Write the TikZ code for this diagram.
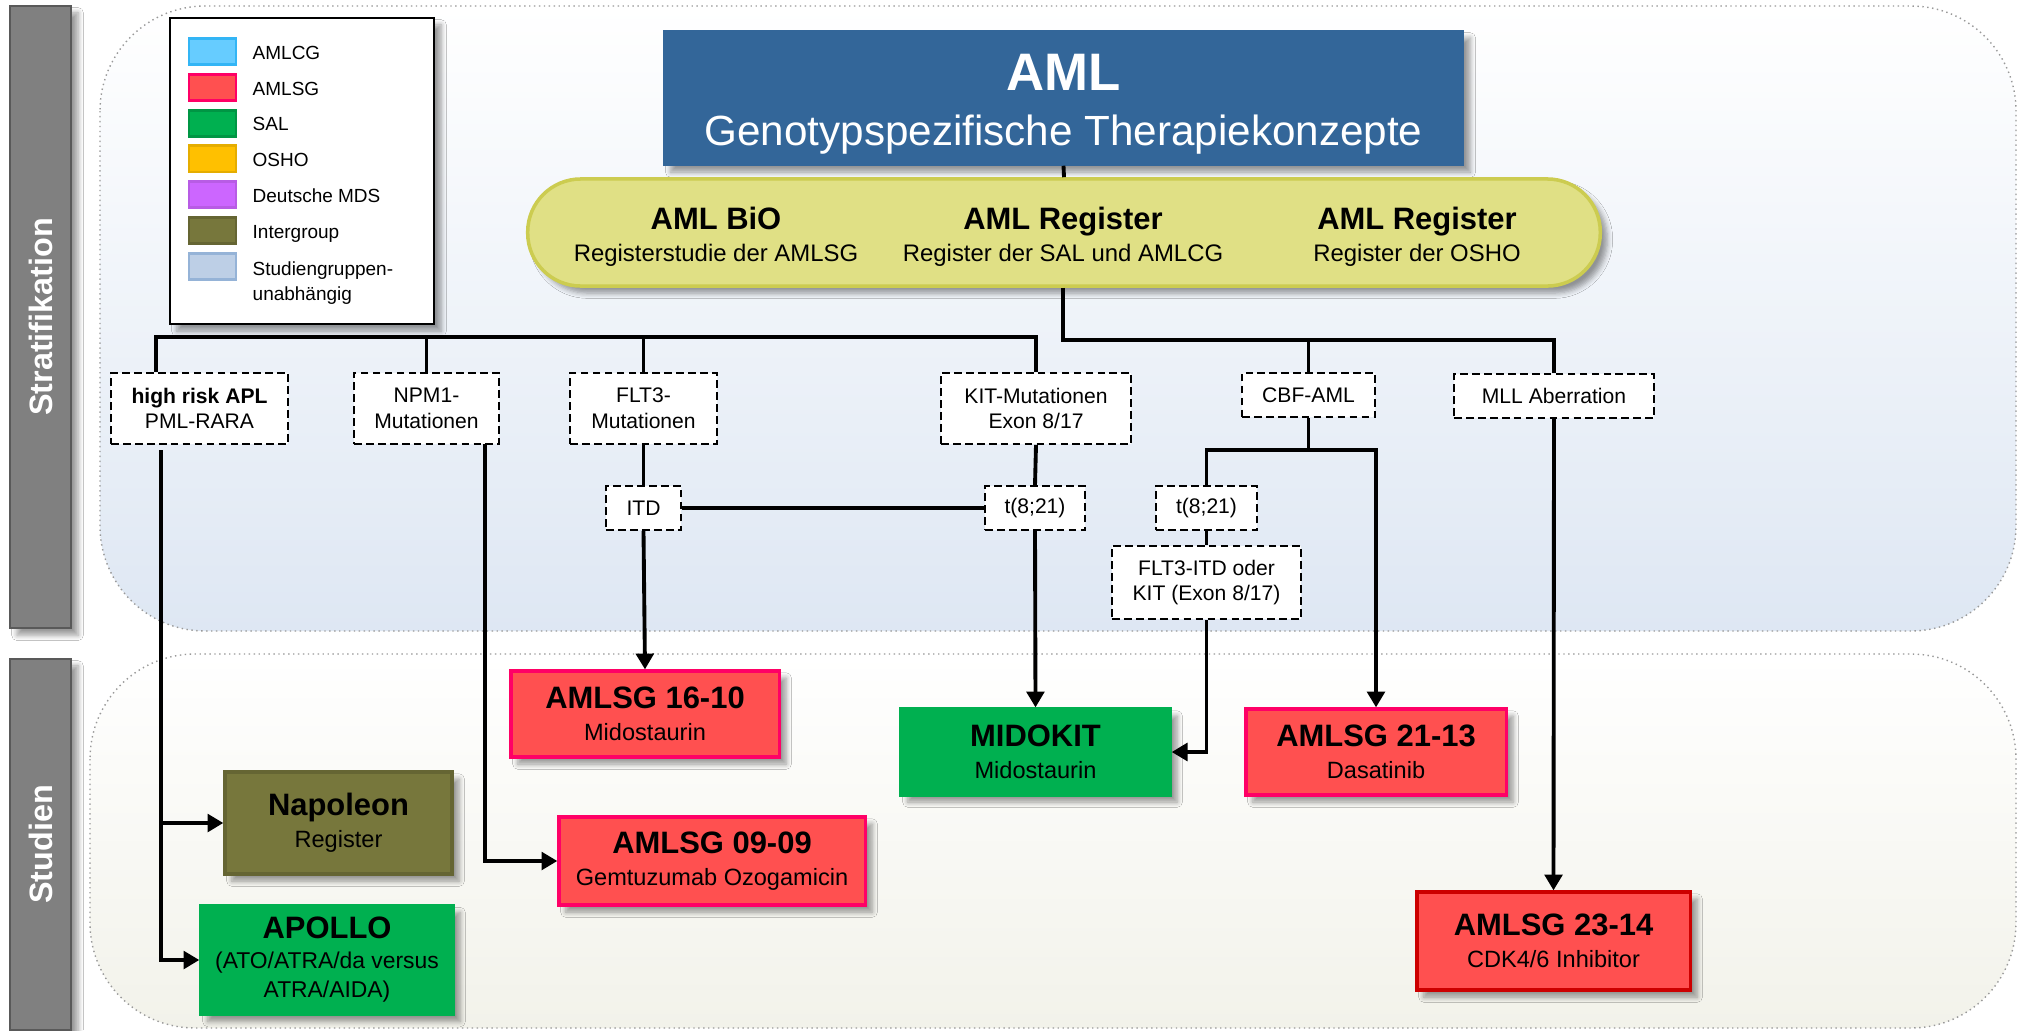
\documentclass[tikz,border=0pt]{standalone}
\usepackage{fontspec}
\setmainfont{Liberation Sans}
\usetikzlibrary{arrows.meta,shadows.blur}

\definecolor{amlblue}{RGB}{51,102,153}
\definecolor{regyellow}{RGB}{224,224,133}
\definecolor{regborder}{RGB}{204,204,80}
\definecolor{amlcg}{RGB}{102,204,255}
\definecolor{amlcgborder}{RGB}{51,181,245}
\definecolor{amlsg}{RGB}{255,80,80}
\definecolor{amlsgborder}{RGB}{255,0,102}
\definecolor{sal}{RGB}{0,176,80}
\definecolor{osho}{RGB}{255,192,0}
\definecolor{mds}{RGB}{204,102,255}
\definecolor{intergroup}{RGB}{119,119,60}
\definecolor{indep}{RGB}{189,207,230}
\definecolor{indepborder}{RGB}{149,179,215}
\definecolor{sidegrey}{RGB}{128,128,128}
\definecolor{stratbottom}{RGB}{222,231,243}
\definecolor{studbottom}{RGB}{242,242,234}

\newcommand{\boxhead}[1]{{\bfseries\fontsize{8.8}{10}\selectfont #1}}

\tikzset{
	boxshadow/.style = {blur shadow={shadow xshift=2pt, shadow yshift=-2pt, shadow blur steps=5,
		shadow blur radius=1.5pt, shadow opacity=40}},
	panel/.style    = {draw=gray!80, densely dotted, line width=0.4pt, rounded corners=1.05cm},
	sidebar/.style  = {fill=sidegrey, draw=gray!70!black, line width=0.6pt, boxshadow, minimum width=0.61cm},
	sidetext/.style = {rotate=90, text=white, font=\bfseries\fontsize{9.2}{11}\selectfont},
	legend/.style   = {draw, fill=white, line width=0.5pt, boxshadow},
	swatch/.style   = {minimum width=0.47cm, minimum height=0.26cm, line width=0.8pt},
	entry/.style    = {anchor=west, align=left, inner sep=0pt, text height=4pt, text depth=1pt,
		font=\fontsize{5.4}{7}\selectfont},
	title/.style    = {fill=amlblue, draw=amlblue, boxshadow, minimum width=7.99cm, minimum height=1.34cm},
	titletext/.style = {text=white, align=center, font=\fontsize{12}{15.5}\selectfont},
	register/.style = {fill=regyellow, draw=regborder, line width=1pt, rounded corners=0.53cm, boxshadow,
		minimum width=10.72cm, minimum height=1.07cm},
	regtext/.style  = {align=center, font=\fontsize{6.8}{9}\selectfont},
	crit/.style     = {draw, dash pattern=on 2.2pt off 1.2pt, fill=white, line width=0.5pt, align=center,
		minimum height=0.44cm, inner sep=1pt, font=\fontsize{6}{7.3}\selectfont},
	study/.style    = {draw, line width=0.9pt, align=center, boxshadow, font=\fontsize{6.7}{9.2}\selectfont},
	link/.style     = {line width=1.1pt}
}

\begin{document}
\begin{tikzpicture}[x=0.01cm, y=-0.01cm, >={Triangle[length=4.5pt,width=5pt]}]

% page and the two panels
\path[use as bounding box, fill=white] (0,0) rectangle (2018,1030);
\draw[panel, top color=white, bottom color=stratbottom] (100,6) rectangle (2016,631);
\draw[panel, top color=white, bottom color=studbottom] (90,654) rectangle (2016,1028);

% side bars
\node[sidebar, minimum height=6.22cm] (strat) at (40.5,317) {};
\node[sidetext] (strattext) at (strat) {Stratifikation};
\node[sidebar, minimum height=3.71cm] (stud) at (40.5,844.5) {};
\node[sidetext] (studtext) at (stud) {Studien};

% legend
\node[legend, minimum width=2.64cm, minimum height=3.06cm] (legend) at (302,171) {};
\foreach \fc/\dc/\lab [count=\i] in {amlcg/amlcgborder/AMLCG, amlsg/amlsgborder/AMLSG,
	sal/sal!85!black/SAL, osho/osho!90!black/OSHO, mds/mds!90!black/Deutsche MDS,
	intergroup/intergroup!85!black/Intergroup}
{
	\node[swatch, fill=\fc, draw=\dc] (sw\i) at (212.5,{15.7+35.8*\i}) {};
	\node[entry] (lab\i) at (252,{18.2+35.8*\i}) {\lab};
}
\node[swatch, fill=indep, draw=indepborder] (sw7) at (212.5,266.4) {};
\node[entry, anchor=north west, text height=] (lab7) at (252,261) {Studiengruppen-\\unabhängig};

% title and registers
\node[title] (aml) at (1063.5,98) {};
\node[titletext] (amltext) at (1063.5,104) {{\bfseries\fontsize{15}{16}\selectfont AML}\\Genotypspezifische Therapiekonzepte};
\node[register] (reg) at (1064,232.5) {};
\node[regtext] (bio) at (716,236.5) {\boxhead{AML BiO}\\Registerstudie der AMLSG};
\node[regtext] (regsal) at (1063,236.5) {\boxhead{AML Register}\\Register der SAL und AMLCG};
\node[regtext] (regosho) at (1417,236.5) {\boxhead{AML Register}\\Register der OSHO};

% stratification criteria
\node[crit, minimum width=1.77cm, minimum height=0.71cm] (hr) at (199.5,408.5) {\textbf{high risk APL}\\PML-RARA};
\node[crit, minimum width=1.45cm, minimum height=0.71cm] (npm) at (426.5,408.5) {NPM1-\\Mutationen};
\node[crit, minimum width=1.47cm, minimum height=0.71cm] (flt) at (643.5,408.5) {FLT3-\\Mutationen};
\node[crit, minimum width=1.90cm, minimum height=0.71cm] (kit) at (1036,408.5) {KIT-Mutationen\\Exon 8/17};
\node[crit, minimum width=1.33cm] (cbf) at (1308.5,395) {CBF-AML};
\node[crit, minimum width=2.00cm] (mll) at (1554,396) {MLL Aberration};
\node[crit, minimum width=0.75cm] (itd) at (643.5,508) {ITD};
\node[crit, minimum width=1.00cm] (tA) at (1035,508) {t(8;21)};
\node[crit, minimum width=1.01cm] (tB) at (1206.5,508) {t(8;21)};
\node[crit, minimum width=1.89cm, minimum height=0.73cm] (fk) at (1206.5,582.5) {FLT3-ITD oder\\KIT (Exon 8/17)};

% studies
\node[study, fill=amlsg, draw=amlsgborder, minimum width=2.68cm, minimum height=0.86cm] (s1610) at (645,714) {\boxhead{AMLSG 16-10}\\Midostaurin};
\node[study, fill=sal, draw=sal, minimum width=2.69cm, minimum height=0.86cm] (midokit) at (1035.5,752) {\boxhead{MIDOKIT}\\Midostaurin};
\node[study, fill=amlsg, draw=amlsgborder, minimum width=2.60cm, minimum height=0.86cm] (s2113) at (1376,752) {\boxhead{AMLSG 21-13}\\Dasatinib};
\node[study, fill=intergroup, draw=intergroup!85!black, minimum width=2.27cm, minimum height=1.02cm] (napo) at (338.5,823) {\boxhead{Napoleon}\\Register};
\node[study, fill=amlsg, draw=amlsgborder, minimum width=3.06cm, minimum height=0.88cm] (s0909) at (712,861) {\boxhead{AMLSG 09-09}\\Gemtuzumab Ozogamicin};
\node[study, fill=sal, draw=sal, minimum width=2.52cm, minimum height=1.06cm, inner xsep=1pt, font=\fontsize{6.5}{8.4}\selectfont] (apollo) at (327,960) {\boxhead{APOLLO}\\(ATO/ATRA/da versus\\ATRA/AIDA)};
\node[study, fill=amlsg, draw=red!80!black, minimum width=2.73cm, minimum height=0.98cm] (s2314) at (1553.5,941) {\boxhead{AMLSG 23-14}\\CDK4/6 Inhibitor};

% connectors
\coordinate (busL) at (156,337);
\coordinate (busR) at (1063,340);
\coordinate (cbfsplit) at (1308.5,450);
\coordinate (hrdown) at (161,450);
\coordinate (npmdown) at (485,444);

\draw[link] (aml.south) -- (reg.north);
\draw[link] (reg.south -| busR) -- (busR) -| (mll.north);
\draw[link] (cbf.north) -- (cbf.north |- busR);
\draw[link] (kit.north) |- (busL) -- (busL |- hr.north);
\draw[link] (npm.north) -- (npm.north |- busL);
\draw[link] (flt.north) -- (flt.north |- busL);

\draw[link] (flt.south) -- (itd.north);
\draw[link] (kit.south) -- (tA.north);
\draw[link] (itd.east) -- (tA.west);
\draw[link,->] (itd.south) -- (s1610.north);
\draw[link,->] (tA.south) -- (midokit.north);

\draw[link] (cbf.south) -- (cbfsplit);
\draw[link,->] (tB.north) |- (cbfsplit) -| (s2113.north);
\draw[link] (tB.south) -- (fk.north);
\draw[link,->] (fk.south) |- (midokit.east);
\draw[link,->] (mll.south) -- (s2314.north);

\draw[link,->] (hrdown) |- (apollo.west);
\draw[link,->] (hrdown |- napo.west) -- (napo.west);
\draw[link,->] (npmdown) |- (s0909.west);

\end{tikzpicture}
\end{document}
